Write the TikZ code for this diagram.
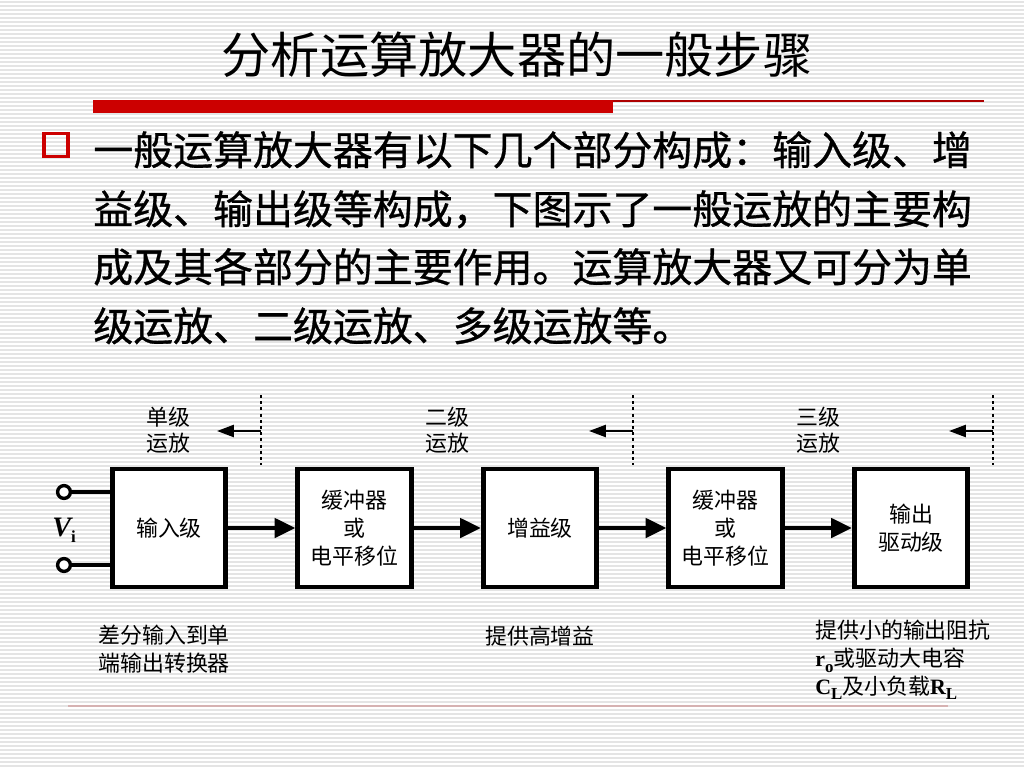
\documentclass[tikz,border=0pt]{standalone}
\usepackage{fontspec}
\setmainfont{Liberation Serif}
\newfontfamily\cjk{Noto Sans CJK SC}
\newfontfamily\cjkbody{Noto Sans CJK SC}[FakeBold=0.8]
\usetikzlibrary{arrows.meta}
\definecolor{slidered}{RGB}{204,0,0}
\definecolor{stripegray}{RGB}{228,228,228}
\definecolor{rulepink}{RGB}{214,178,178}
\newcommand{\lat}[1]{{\rmfamily\bfseries #1}}
\newcommand{\lowsub}[1]{\raisebox{-0.45ex}{\fontsize{12pt}{12pt}\selectfont\rmfamily\bfseries #1}}

\begin{document}
\begin{tikzpicture}[x=0.025cm, y=-0.025cm,
  stagebox/.style={draw, line width=3.5pt, fill=white, minimum width=2.83cm, minimum height=2.95cm,
    inner sep=0pt, align=center, font=\cjk\fontsize{15.6pt}{20pt}\selectfont},
  flowarrow/.style={-{Triangle[length=0.52cm, width=0.48cm]}, line width=2.8pt},
  backarrow/.style={-{Triangle[length=0.42cm, width=0.3cm]}, line width=1.5pt},
  cutline/.style={line width=1.5pt, dash pattern=on 2.2pt off 2.2pt},
  wire/.style={line width=2.4pt},
  terminal/.style={circle, draw, line width=2.4pt, fill=white, minimum size=0.32cm, inner sep=0pt},
  stagelabel/.style={align=center, inner sep=0pt, font=\cjk\fontsize{15.6pt}{18.5pt}\selectfont},
  notelabel/.style={inner sep=0pt, font=\cjk\fontsize{15.6pt}{19.9pt}\selectfont},
  bodyline/.style={anchor=base west, inner sep=0pt, font=\cjkbody\fontsize{28.4pt}{28.4pt}\selectfont}]
\useasboundingbox (0,0) rectangle (1024,768);
% striped slide background
\fill[white] (0,0) rectangle (1024,768);
\foreach \y in {2,6,...,766}
  \draw[stripegray, line width=1pt] (0,\y) -- (1024,\y);

% title and rule
\node[anchor=base, inner sep=0pt, font=\cjk\fontsize{35pt}{35pt}\selectfont] (title) at (517,74) {分析运算放大器的一般步骤};
\fill[slidered] (93,100) rectangle (613,113);
\draw[slidered!85!black, line width=0.8pt] (613,101) -- (984,101);

% bullet text
\draw[slidered, line width=2.6pt] (44,133.5) rectangle (68,156.5);
\node[bodyline] (body1) at (93,165) {一般运算放大器有以下几个部分构成：输入级、增};
\node[bodyline] (body2) at (93,224) {益级、输出级等构成，下图示了一般运放的主要构};
\node[bodyline] (body3) at (93,282) {成及其各部分的主要作用。运算放大器又可分为单};
\node[bodyline] (body4) at (93,341) {级运放、二级运放、多级运放等。};

% stages
\node[stagebox] (inbox) at (169,528) {输入级};
\node[stagebox] (buf1) at (354.5,528) {缓冲器\\或\\电平移位};
\node[stagebox] (gain) at (540,528) {增益级};
\node[stagebox] (buf2) at (725.5,528) {缓冲器\\或\\电平移位};
\node[stagebox] (outdrv) at (911,528) {输出\\驱动级};
\foreach \a/\b in {inbox/buf1, buf1/gain, gain/buf2, buf2/outdrv}
  \draw[flowarrow] (\a) -- (\b);

% input terminals
\node[terminal] (vinp) at (64,492) {};
\node[terminal] (vinn) at (64,565) {};
\draw[wire] (vinp) -- (vinp -| inbox.west);
\draw[wire] (vinn) -- (vinn -| inbox.west);
\node[inner sep=0pt, font=\fontsize{20pt}{20pt}\selectfont] (vi) at (64,530) {\lat{\itshape V}\lowsub{i}};

% cut lines for one, two and three stage op amps
\foreach \n/\x in {1/261, 2/633, 3/993} {
  \coordinate (cut\n top) at (\x,395);
  \coordinate (cut\n bot) at (\x,465);
  \draw[cutline] (cut\n top) -- (cut\n bot);
  \coordinate (cut\n) at (\x,431);
  \coordinate (tip\n) at (\x-44,431);
  \draw[backarrow] (cut\n) -- (tip\n);
}
\node[stagelabel] (lbl1) at (168,430) {单级\\运放};
\node[stagelabel] (lbl2) at (447,430) {二级\\运放};
\node[stagelabel] (lbl3) at (818,430) {三级\\运放};

% notes under the stages
\node[notelabel, anchor=west, align=left] (note1) at (98,649) {差分输入到单\\端输出转换器};
\node[notelabel] (note2) at (540,636) {提供高增益};
\node[notelabel, anchor=west, align=left] (note3) at (815,660)
  {提供小的输出阻抗\\\lat{r}\lowsub{o}或驱动大电容\\\lat{C}\lowsub{L}及小负载\lat{R}\lowsub{L}};

% footer rule
\draw[rulepink, line width=0.8pt] (68,706) -- (948,706);
\end{tikzpicture}
\end{document}
